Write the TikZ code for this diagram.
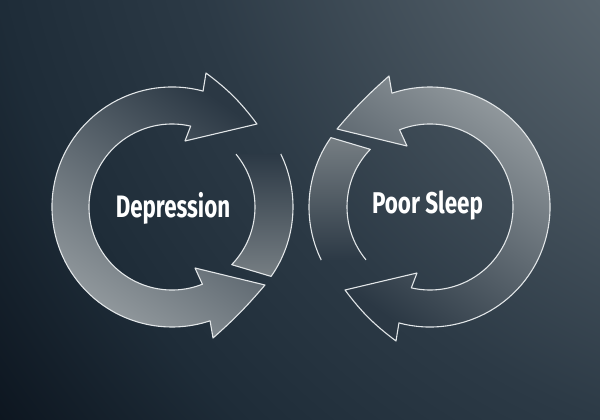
\documentclass[tikz,border=0pt]{standalone}
\usepackage{fontspec}
\usetikzlibrary{calc}
\newfontfamily\lblfont{Fira Sans}[FakeStretch=0.72]
\definecolor{bgA}{RGB}{88,100,109}
\definecolor{bgB}{RGB}{44,58,70}
\definecolor{bgC}{RGB}{30,44,56}
\definecolor{bgD}{RGB}{13,22,32}
\definecolor{bandLight}{HTML}{969DA1}
\definecolor{bandMid}{HTML}{6E767B}
\definecolor{bandDark}{HTML}{2B3844}
\definecolor{segGrey}{HTML}{767E83}
\definecolor{segFade}{HTML}{2C3945}
\definecolor{lineC}{HTML}{E2E6E8}
\pgfdeclareradialshading{bgglow}{\pgfpointorigin}{color(0bp)=(bgA); color(7.14bp)=(bgA); color(15.62bp)=(bgB); color(20.26bp)=(bgC); color(24.55bp)=(bgD); color(50bp)=(bgD)}
\newcommand\onecycle{%
  \path[bandshade, outline]
    ($(172,207)+(-75:120)$) arc[start angle=-75, end angle=-288.5, radius=120]
    -- (213,338) to[bend right=4] (265,285) -- (195,268)
    -- ($(172,207)+(68.5:83)$) arc[start angle=68.5, end angle=283, radius=83]
    -- (185,141) -- (257,124) to[bend right=8] (206,73) -- cycle;
  \path[segshade]
    ($(172,207)+(-39.6:83)$) arc[start angle=-39.6, end angle=44, radius=83]
    -- ($(172,207)+(35:121)$) arc[start angle=35, end angle=-26, radius=121] -- cycle;
  \path[outline]
    ($(172,207)+(-39.6:83)$) arc[start angle=-39.6, end angle=44, radius=83]
    -- ($(172,207)+(35:121)$) arc[start angle=35, end angle=-26, radius=121];
}
\begin{document}
\begin{tikzpicture}[x=1pt,y=-1pt,
  outline/.style={draw=lineC, line width=1.1pt, line join=round},
  lbl/.style={font=\lblfont\bfseries\fontsize{31}{31}\selectfont, text=white, inner sep=0pt, anchor=base}]
\useasboundingbox (0,0) rectangle (600,420);
\begin{scope}
  \clip (0,0) rectangle (600,420);
  \shade[shading=bgglow] (828,-195) circle (1050pt);
\end{scope}
\begin{scope}[bandshade/.style={top color=bandDark, middle color=bandMid, bottom color=bandLight, shading angle=-35},
  segshade/.style={top color=segFade, bottom color=segGrey}]
  \onecycle
\end{scope}
\begin{scope}[shift={(602,414)}, x=-1pt, y=1pt,
  bandshade/.style={top color=bandDark, middle color=bandMid, bottom color=bandLight, shading angle=145},
  segshade/.style={top color=segGrey, bottom color=segFade}]
  \onecycle
\end{scope}
\node[lbl] (dep) at (173,217) {Depression};
\node[lbl, font=\lblfont\bfseries\fontsize{30}{30}\selectfont] (sleep) at (427.5,213) {\scalebox{1.04}[1]{Poor Sleep}};
\end{tikzpicture}
\end{document}
